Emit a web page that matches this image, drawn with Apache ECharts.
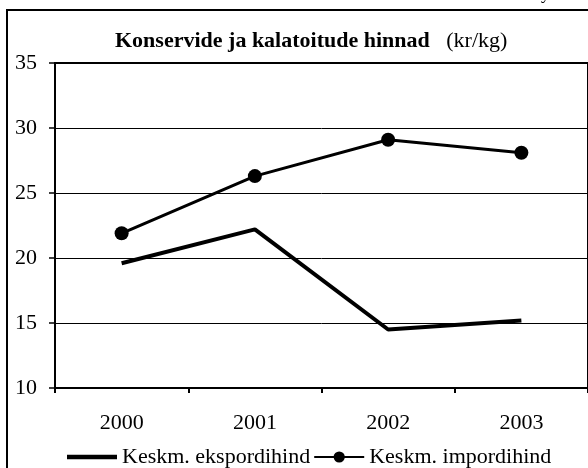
<!DOCTYPE html>
<html>
<head>
<meta charset="utf-8">
<script src="https://cdn.jsdelivr.net/npm/echarts@6/dist/echarts.min.js"></script>
<style>
  html, body { margin: 0; padding: 0; background: #fff; }
  #chart { width: 588px; height: 468px; }
</style>
</head>
<body>
<div id="chart"></div>
<script>
const years = ['2000', '2001', '2002', '2003'];
const ekspordihind = [19.6, 22.2, 14.5, 15.2];
const impordihind = [21.9, 26.3, 29.1, 28.1];
const seriesNames = ['Keskm. ekspordihind', 'Keskm. impordihind'];

const font = 'Liberation Serif, Times New Roman, serif';

const myChart = echarts.init(document.getElementById('chart'));

myChart.setOption({
  animation: false,
  backgroundColor: '#fff',
  title: {
    text: '{b|Konservide ja kalatoitude hinnad}{n|   (kr/kg)}',
    left: 110,
    top: 25,
    textStyle: {
      fontWeight: 'normal',
      rich: {
        b: { fontFamily: font, fontSize: 22, fontWeight: 'bold', color: '#000' },
        n: { fontFamily: font, fontSize: 22, fontWeight: 'normal', color: '#000' }
      }
    }
  },
  graphic: [
    {
      type: 'rect',
      shape: { x: 7, y: 10, width: 600, height: 480 },
      style: { fill: 'none', stroke: '#000', lineWidth: 2 },
      silent: true
    },
    {
      // bit of a cut-off heading above the frame
      type: 'text',
      left: 541,
      top: -15,
      style: { text: 'y', fontFamily: font, fontSize: 18, fill: '#000' },
      silent: true
    }
  ],
  grid: {
    left: 55,
    top: 63,
    width: 537,
    height: 325,
    show: true,
    borderColor: '#000',
    borderWidth: 2
  },
  legend: {
    // export line has no marker, so draw a plain thick bar for it
    data: [
      { name: seriesNames[0], icon: 'path://M0,0 L48,0 L48,4.5 L0,4.5 Z' },
      { name: seriesNames[1] }
    ],
    symbolKeepAspect: true,
    left: 62,
    top: 441,
    itemWidth: 50,
    itemHeight: 14,
    itemGap: 3,
    textStyle: { fontFamily: font, fontSize: 22, color: '#000' }
  },
  xAxis: {
    type: 'category',
    data: years,
    boundaryGap: true,
    axisLine: { lineStyle: { color: '#000', width: 2 } },
    axisTick: { show: true, length: 5, lineStyle: { color: '#000', width: 2 } },
    axisLabel: { fontFamily: font, fontSize: 22, color: '#000', margin: 24 },
    splitLine: { show: false }
  },
  yAxis: {
    type: 'value',
    min: 10,
    max: 35,
    interval: 5,
    axisLine: { show: true, lineStyle: { color: '#000', width: 2 } },
    axisTick: { show: true, length: 6, lineStyle: { color: '#000', width: 1.5 } },
    axisLabel: { fontFamily: font, fontSize: 22, color: '#000', margin: 18 },
    splitLine: { show: true, lineStyle: { color: '#000', width: 1 } }
  },
  series: [
    {
      name: seriesNames[0],
      type: 'line',
      data: ekspordihind,
      symbol: 'none',
      lineStyle: { color: '#000', width: 4 },
      itemStyle: { color: '#000' }
    },
    {
      name: seriesNames[1],
      type: 'line',
      data: impordihind,
      symbol: 'circle',
      symbolSize: 14,
      lineStyle: { color: '#000', width: 3 },
      itemStyle: { color: '#000' }
    }
  ]
});
</script>
</body>
</html>
